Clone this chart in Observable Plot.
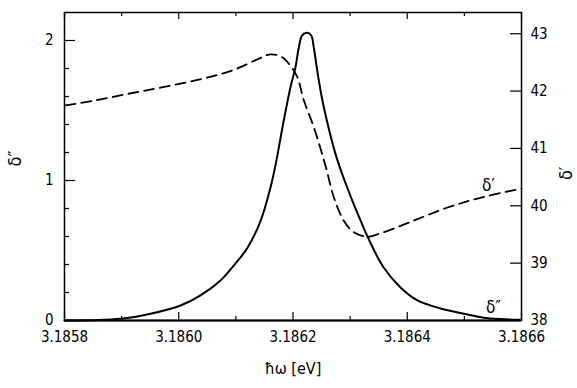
<!DOCTYPE html>
<html><head><meta charset="utf-8">
<script src="https://cdn.jsdelivr.net/npm/d3@7"></script>
<script src="https://cdn.jsdelivr.net/npm/@observablehq/plot@0.6"></script>
<style>body{margin:0;background:#fff}</style>
</head><body><div id="chart"></div>
<script>
// δ'' (solid, left axis)
const energyDD = [3.185800,3.185898,3.1859505,3.1860031,3.1860381,3.1860731,3.1860958,3.1861204,3.1861431,3.1861606,3.1861694,3.1861839,3.1861956,3.1862044,3.1862102,3.1862161,3.1862249,3.1862319,3.1862364,3.1862424,3.1862511,3.1862627,3.1862744,3.1862832,3.1862949,3.1863059,3.1863182,3.1863304,3.1863584,3.1863882,3.1864179,3.1864582,3.1865055,3.1865335,3.1865632,3.186600];
const deltaDD  = [0.0,0.012,0.048,0.107,0.18,0.286,0.39,0.52,0.71,0.95,1.11,1.43,1.667,1.81,1.95,2.036,2.055,2.036,1.95,1.786,1.58,1.37,1.19,1.08,0.95,0.835,0.715,0.60,0.38,0.236,0.143,0.086,0.043,0.02,0.01,0.005];
// δ' (dashed, right axis)
const energyD = [3.1858018,3.1858508,3.1859103,3.1859681,3.1860439,3.1860964,3.1861373,3.1861606,3.1861811,3.1861956,3.1862074,3.1862189,3.1862364,3.1862569,3.1862714,3.1862889,3.1863064,3.1863299,3.1863532,3.1864109,3.1864705,3.1865282,3.186600];
const deltaD  = [41.75,41.83,41.95,42.06,42.22,42.37,42.55,42.64,42.59,42.44,42.25,41.84,41.37,40.70,40.15,39.74,39.54,39.46,39.52,39.74,39.97,40.14,40.30];

const xMajorTicks = [3.1858,3.1860,3.1862,3.1864,3.1866];
const xMinorTicks = [3.1859,3.1861,3.1863,3.1865];
const leftMajorTicks = [0,1,2];
const leftMinorTicks = [0.2,0.4,0.6,0.8,1.2,1.4,1.6,1.8];
const rightTicks = [38,39,40,41,42,43];
const xDomain = [3.1858,3.1866];
const leftDomain = [0,2.2];
const rightDomain = [38,43.37];
const curveLabels = [
  {text:"δ′", x:3.186542, v:40.35, axis:"right"},
  {text:"δ″", x:3.186551, v:0.093, axis:"left"}
];

const ratio = (leftDomain[1]-leftDomain[0])/(rightDomain[1]-rightDomain[0]);
const toLeft = v => (v - rightDomain[0]) * ratio + leftDomain[0];
const fromLeft = y => (y - leftDomain[0]) / ratio + rightDomain[0];

const W = 577, H = 388, mL = 64, mR = 56, mT = 12, mB = 68;
const pw = W - mL - mR, ph = H - mT - mB;

const solid = energyDD.map((x,i)=>({x, y: deltaDD[i]}));
const dashed = energyD.map((x,i)=>({x, y: toLeft(deltaD[i])}));
const labels = curveLabels.map(d=>({text:d.text, x:d.x, y: d.axis==="right" ? toLeft(d.v) : d.v}));

const font = "'DejaVu Sans Condensed','Liberation Sans Narrow','DejaVu Sans',sans-serif";

const chart = Plot.plot({
  width: W, height: H,
  marginLeft: mL, marginRight: mR, marginTop: mT, marginBottom: mB,
  style: {fontFamily: font, fontSize: "15px", background: "#fff", color: "#000"},
  x: {domain: xDomain},
  y: {domain: leftDomain},
  marks: [
    Plot.frame({stroke: "#000", strokeWidth: 1.5}),
    Plot.ruleY([0], {stroke:"#000", strokeWidth: 2}),
    // inward ticks bottom
    Plot.tickX(xMajorTicks, {x: d=>d, insetTop: ph-8, stroke:"#000", strokeWidth:1.2}),
    Plot.tickX(xMinorTicks, {x: d=>d, insetTop: ph-4, stroke:"#000", strokeWidth:1.2}),
    // inward ticks top
    Plot.tickX(xMajorTicks, {x: d=>d, insetBottom: ph-7, stroke:"#000", strokeWidth:1.2}),
    Plot.tickX(xMinorTicks, {x: d=>d, insetBottom: ph-4, stroke:"#000", strokeWidth:1.2}),
    // left ticks
    Plot.tickY(leftMajorTicks, {y: d=>d, insetRight: pw-11, stroke:"#000", strokeWidth:1.2}),
    Plot.tickY(leftMinorTicks, {y: d=>d, insetRight: pw-5, stroke:"#000", strokeWidth:1.2}),
    // right ticks
    Plot.tickY(rightTicks.filter(t=>t>rightDomain[0]), {y: d=>toLeft(d), insetLeft: pw-11, stroke:"#000", strokeWidth:1.2}),
    // axes labels
    Plot.axisX(xMajorTicks, {anchor:"bottom", tickSize:0, tickPadding:11, tickFormat: d=>d.toFixed(4), label:null, fontSize:15}),
    Plot.axisY(leftMajorTicks, {anchor:"left", tickSize:0, tickPadding:11, tickFormat: d=>String(d), label:null, fontSize:15}),
    Plot.axisY(rightTicks.map(toLeft), {anchor:"right", tickSize:0, tickPadding:9, tickFormat: d=>String(Math.round(fromLeft(d))), label:null, fontSize:15}),
    // curves
    Plot.line(dashed, {x:"x", y:"y", stroke:"#000", strokeWidth:1.8, strokeDasharray:"10,6", curve:"catmull-rom"}),
    Plot.line(solid, {x:"x", y:"y", stroke:"#000", strokeWidth:2, curve:"catmull-rom"}),
    Plot.text(labels, {x:"x", y:"y", text:"text", fontSize:17, fill:"#000"}),
    // axis titles
    Plot.text(["ħω [eV]"], {frameAnchor:"bottom", dy:53, fontSize:16, fill:"#000"}),
    Plot.text(["δ″"], {frameAnchor:"left", dx:-49, rotate:-90, fontSize:18, fill:"#000"}),
    Plot.text(["δ′"], {frameAnchor:"right", dx:45, rotate:-90, fontSize:18, fill:"#000"})
  ]
});
document.getElementById("chart").appendChild(chart);
</script>
</body></html>
